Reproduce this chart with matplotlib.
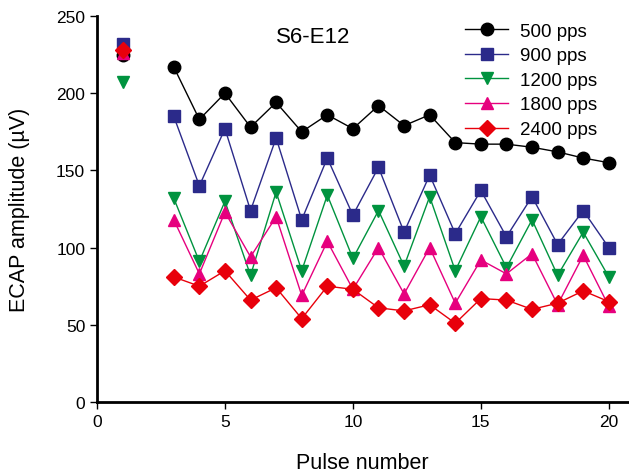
import matplotlib
matplotlib.use("Agg")
import matplotlib.pyplot as plt

plt.rcParams["font.family"] = ["Liberation Sans", "DejaVu Sans"]

# pulse numbers: pulse 1 is drawn alone, pulses 3-20 are joined
first_pulse = [1]
pulses = list(range(3, 21))

labels = ["500 pps", "900 pps", "1200 pps", "1800 pps", "2400 pps"]
colors = ["#000000", "#2B2A8A", "#00933F", "#E6007E", "#E8000B"]
markers = ["o", "s", "v", "^", "D"]
msizes = [9, 8, 9, 9, 8]

first_vals = [225, 232, 207, 226, 228]

amp_500 = [217, 183, 200, 178, 194, 175, 186, 177, 192, 179, 186, 168, 167, 167, 165, 162, 158, 155]
amp_900 = [185, 140, 177, 124, 171, 118, 158, 121, 152, 110, 147, 109, 137, 107, 133, 102, 124, 100]
amp_1200 = [132, 91, 130, 82, 136, 85, 134, 93, 124, 88, 133, 85, 120, 87, 118, 82, 110, 81]
amp_1800 = [118, 83, 123, 94, 120, 69, 104, 73, 100, 70, 100, 64, 92, 83, 96, 63, 95, 62]
amp_2400 = [81, 75, 85, 66, 74, 54, 75, 73, 61, 59, 63, 51, 67, 66, 60, 64, 72, 65]
series = [amp_500, amp_900, amp_1200, amp_1800, amp_2400]

fig = plt.figure(figsize=(6.29, 4.77), dpi=100)
ax = fig.add_axes([97 / 629, 74 / 477, 531 / 629, 386 / 477])

for vals, first, lab, c, m, ms in zip(series, first_vals, labels, colors, markers, msizes):
    ax.plot(pulses, vals, color=c, marker=m, markersize=ms, linewidth=1, label=lab)
    ax.plot(first_pulse, [first], color=c, marker=m, markersize=ms, linestyle="none")

ax.set_xlim(0, 20.75)
ax.set_ylim(0, 250)
ax.set_xticks([0, 5, 10, 15, 20])
ax.set_yticks([0, 50, 100, 150, 200, 250])
ax.spines["top"].set_visible(False)
ax.spines["right"].set_visible(False)
ax.spines["left"].set_linewidth(2)
ax.spines["bottom"].set_linewidth(2)
ax.tick_params(direction="out", length=5, width=1, labelsize=12.5)
ax.set_xlabel("Pulse number", fontsize=15.5, labelpad=17)
ax.set_ylabel("ECAP amplitude (\u00b5V)", fontsize=15.5, labelpad=19)

ax.text(8.44, 237, "S6-E12", fontsize=16, ha="center", va="center")

ax.legend(loc="upper left", frameon=False, fontsize=13.5, handlelength=2.3,
          handletextpad=0.64, labelspacing=0.4, borderpad=0, borderaxespad=0,
          bbox_to_anchor=(465 / 629, 1 - 23.5 / 477), bbox_transform=fig.transFigure)

fig.savefig("out.png", dpi=100)
